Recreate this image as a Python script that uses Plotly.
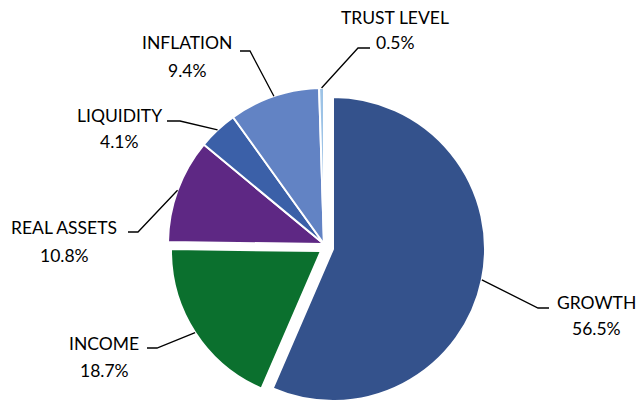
import math
import plotly.graph_objects as go

# ---- data ----
categories = ["GROWTH", "INCOME", "REAL ASSETS", "LIQUIDITY", "INFLATION", "TRUST LEVEL"]
values = [56.5, 18.7, 10.8, 4.1, 9.4, 0.5]
colors = ["#34528C", "#0B702E", "#5E2884", "#3B60A8", "#6283C4", "#9DC3E6"]

# ---- layout constants (pixels) ----
W, H = 643, 401
FONT = "Lato"
FS = 17.5
TRANSPARENT = "rgba(0,0,0,0)"

# pie geometry: (center x, center y, radius) for each drawn group
GEOM_REST = (324, 244, 156)
GEOM_INCOME = (321, 251, 150)
GEOM_GROWTH = (333, 249, 152)

# label placement: text centre x, name y, pct y, elbow x, elbow y, line end x
LABEL_POS = {
    "GROWTH": (596, 302, 328, 538, 308, 549),
    "INCOME": (104, 343, 370, 157, 348, 147),
    "REAL ASSETS": (64, 227, 255, 138, 232, 128),
    "LIQUIDITY": (119, 115, 142, 180, 121, 167),
    "INFLATION": (187, 43, 70, 250, 51, 240),
    "TRUST LEVEL": (395, 17, 43, 358, 48, 370),
}


def domain(geom):
    cx, cy, r = geom
    return dict(x=[(cx - r) / W, (cx + r) / W],
                y=[max(0.0, (H - cy - r) / H), min(1.0, (H - cy + r) / H)])


def px(x, y):
    return x / W, 1 - y / H


def pie_trace(geom, shown):
    cols = [c if cat in shown else TRANSPARENT for cat, c in zip(categories, colors)]
    widths = [2 if cat in shown else 0 for cat in categories]
    return go.Pie(
        labels=categories, values=values, sort=False, direction="clockwise",
        rotation=0, textinfo="none", hoverinfo="label+percent",
        marker=dict(colors=cols, line=dict(color="white", width=widths)),
        domain=domain(geom), showlegend=False,
    )


fig = go.Figure()
fig.add_trace(pie_trace(GEOM_REST, {"REAL ASSETS", "LIQUIDITY", "INFLATION", "TRUST LEVEL"}))
fig.add_trace(pie_trace(GEOM_INCOME, {"INCOME"}))
fig.add_trace(pie_trace(GEOM_GROWTH, {"GROWTH"}))

geom_for = {"GROWTH": GEOM_GROWTH, "INCOME": GEOM_INCOME}
total = sum(values)
cum = 0.0
annotations, shapes = [], []
for cat, v in zip(categories, values):
    mid = (cum + v / 2) / total * 2 * math.pi
    cum += v
    cx, cy, r = geom_for.get(cat, GEOM_REST)
    ax, ay = cx + r * math.sin(mid), cy - r * math.cos(mid)
    tx, ny, py, ex, ey, lx = LABEL_POS[cat]
    x0, y0 = px(ax, ay)
    x1, y1 = px(ex, ey)
    x2, y2 = px(lx, ey)
    shapes.append(dict(type="path", xref="paper", yref="paper",
                       path=f"M {x0} {y0} L {x1} {y1} L {x2} {y2}",
                       line=dict(color="black", width=1.3)))
    for txt, yy in ((cat, ny), (f"{v:.1f}%", py)):
        xx, yyp = px(tx, yy)
        annotations.append(dict(text=txt, x=xx, y=yyp, xref="paper", yref="paper",
                                xanchor="center", yanchor="middle", showarrow=False,
                                font=dict(family=FONT, size=FS, color="black")))

fig.update_layout(
    width=W, height=H, margin=dict(l=0, r=0, t=0, b=0, pad=0),
    paper_bgcolor="white", plot_bgcolor="white",
    annotations=annotations, shapes=shapes, showlegend=False,
)

fig.write_html("out.html", config={"displayModeBar": False},
               post_script="document.body.style.margin='0';")
